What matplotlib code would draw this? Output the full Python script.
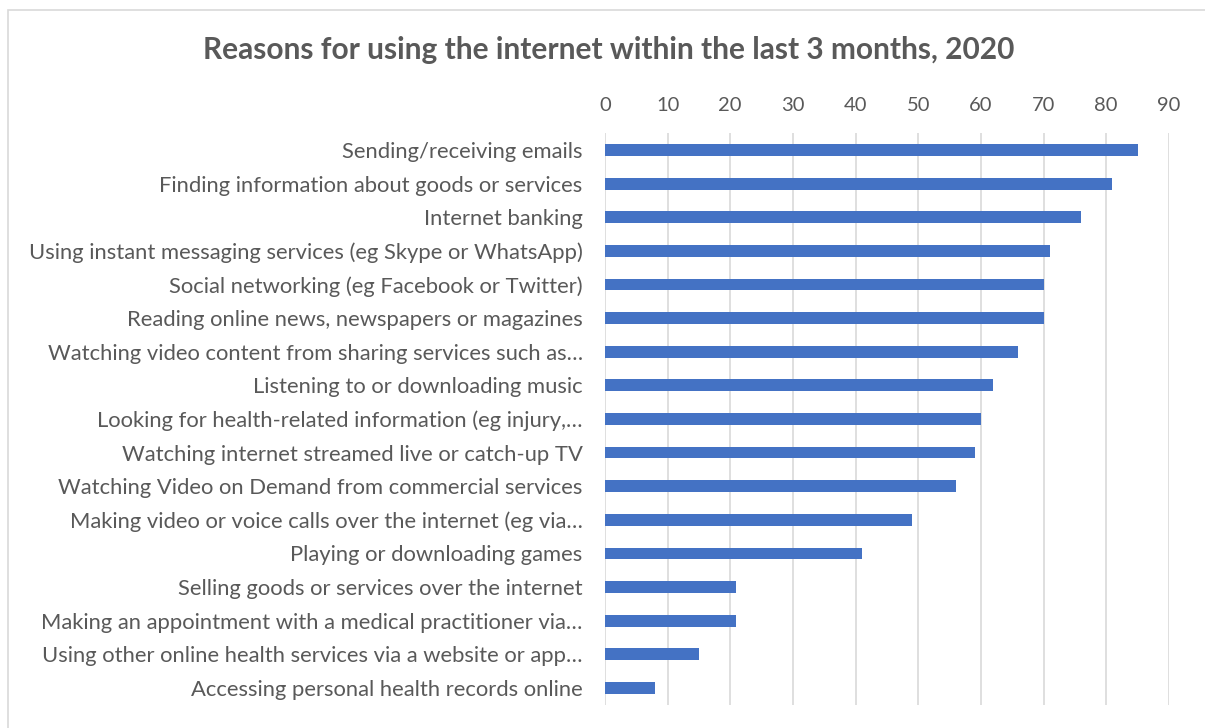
import matplotlib.pyplot as plt
from matplotlib.patches import Rectangle

plt.rcParams['font.family'] = ['Lato', 'DejaVu Sans']

reasons = [
    'Sending/receiving emails',
    'Finding information about goods or services',
    'Internet banking',
    'Using instant messaging services (eg Skype or WhatsApp)',
    'Social networking (eg Facebook or Twitter)',
    'Reading online news, newspapers or magazines',
    'Watching video content from sharing services such as…',
    'Listening to or downloading music',
    'Looking for health-related information (eg injury,…',
    'Watching internet streamed live or catch-up TV',
    'Watching Video on Demand from commercial services',
    'Making video or voice calls over the internet (eg via…',
    'Playing or downloading games',
    'Selling goods or services over the internet',
    'Making an appointment with a medical practitioner via…',
    'Using other online health services via a website or app…',
    'Accessing personal health records online',
]
percent = [85, 81, 76, 71, 70, 70, 66, 62, 60, 59, 56, 49, 41, 21, 21, 15, 8]
ticks = [0, 10, 20, 30, 40, 50, 60, 70, 80, 90]

text_grey = '#595959'

fig = plt.figure(figsize=(12.05, 7.28), dpi=100)
ax = fig.add_axes([0.502, 0.032, 0.468, 0.785])

y = list(range(len(reasons)))
ax.barh(y, percent, height=0.35, color='#4472C4', zorder=3)
ax.set_ylim(len(reasons) - 0.5, -0.5)
ax.set_xlim(0, 90)
ax.set_xticks(ticks)
ax.xaxis.tick_top()
ax.tick_params(axis='x', length=0, pad=14, labelsize=14.5, colors=text_grey)
ax.tick_params(axis='y', length=0, pad=16, labelsize=15.8, colors=text_grey)
ax.set_yticks(y)
ax.set_yticklabels(reasons)
ax.grid(axis='x', color='#D9D9D9', linewidth=1.2, zorder=0)
for s in ax.spines.values():
    s.set_visible(False)

fig.text(0.505, 0.931, 'Reasons for using the internet within the last 3 months, 2020',
         ha='center', va='center', fontsize=21.5, fontweight='bold', color=text_grey)

# chart area border
fig.patches.append(Rectangle((0.007, -0.01), 1.0, 0.996, transform=fig.transFigure,
                             fill=False, edgecolor='#D9D9D9', linewidth=1.2))

fig.savefig('out.png', dpi=100)
